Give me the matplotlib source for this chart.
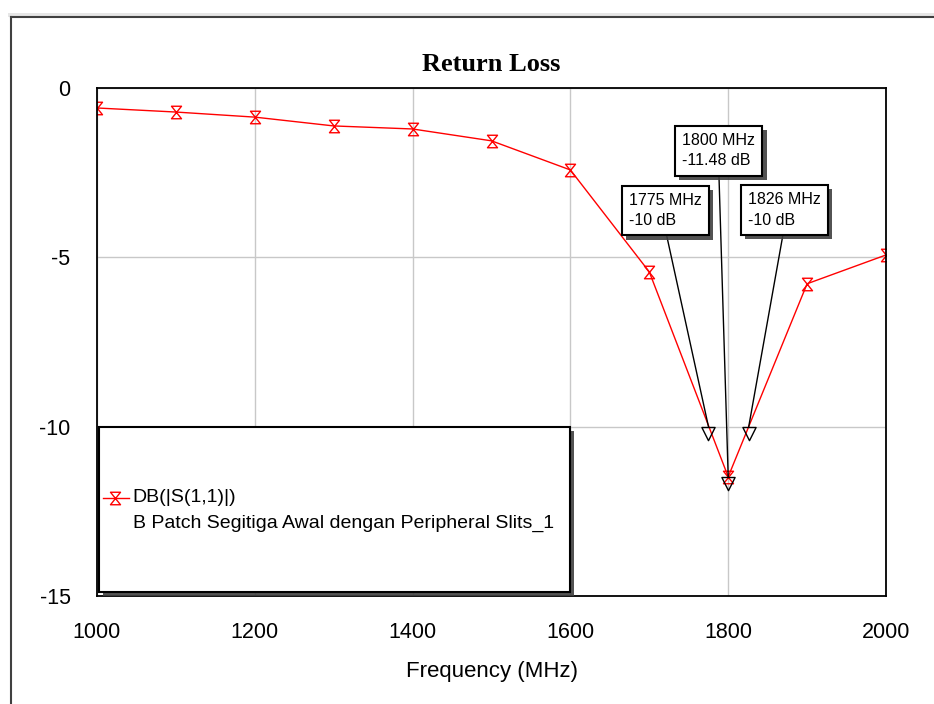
import numpy as np
import matplotlib
matplotlib.use('Agg')
import matplotlib.pyplot as plt
from matplotlib.path import Path
from matplotlib.patches import Rectangle
from matplotlib.lines import Line2D
import matplotlib.patheffects as pe

# data
freq = [1000, 1100, 1200, 1300, 1400, 1500, 1600, 1700, 1800, 1900, 2000]
s11_db = [-0.59, -0.71, -0.86, -1.12, -1.21, -1.56, -2.42, -5.43, -11.48, -5.78, -4.93]

marker_freq = [1775, 1800, 1826]
marker_db = [-10, -11.48, -10]
marker_text = ['1775 MHz\n-10 dB', '1800 MHz\n-11.48 dB', '1826 MHz\n-10 dB']
marker_box_xy = [(1720, -3.62), (1788, -1.85), (1871, -3.60)]

legend_name = 'DB(|S(1,1)|)'
legend_desc = 'B Patch Segitiga Awal dengan Peripheral Slits_1'

plt.rcParams['font.family'] = ['Liberation Sans', 'DejaVu Sans']
plt.rcParams['axes.unicode_minus'] = False

# hourglass marker like the simulator uses
hourglass = Path([(-0.8, 1), (0.8, 1), (-0.8, -1), (0.8, -1), (-0.8, 1)],
                 [Path.MOVETO, Path.LINETO, Path.LINETO, Path.LINETO, Path.CLOSEPOLY])
# down triangle with its top edge on the point
pointer = Path([(-0.5, 0), (0.5, 0), (0, -1), (-0.5, 0)],
               [Path.MOVETO, Path.LINETO, Path.LINETO, Path.CLOSEPOLY])

fig = plt.figure(figsize=(9.34, 7.04), dpi=100)
ax = fig.add_axes([97/934, 1-596/704, 789/934, 508/704])

# window frame
fig.add_artist(Rectangle((8/934, 1-17/704), 926/934, 4/704, transform=fig.transFigure,
                         facecolor='#e6e6e6', edgecolor='none'))
fig.add_artist(Line2D([11/934, 1], [1-17/704, 1-17/704], transform=fig.transFigure,
                      color='#404040', lw=1.5))
fig.add_artist(Line2D([11/934, 11/934], [0, 1-17/704], transform=fig.transFigure,
                      color='#404040', lw=1.5))

ax.plot(freq, s11_db, color='red', lw=1, marker=hourglass, markersize=9,
        markerfacecolor='none', markeredgecolor='red', markeredgewidth=1, zorder=3)

ax.set_xlim(1000, 2000)
ax.set_ylim(-15, 0)
ax.set_xticks(np.arange(1000, 2001, 200))
ax.set_yticks([0, -5, -10, -15])
ax.grid(True, color='#c8c8c8', lw=1)
ax.tick_params(length=0, labelsize=15.5, pad=19)
for s in ax.spines.values():
    s.set_linewidth(1.3)
    s.set_zorder(6)

ax.set_title('Return Loss', family='Liberation Serif', fontweight='bold', fontsize=19, pad=12)
ax.set_xlabel('Frequency (MHz)', fontsize=16, labelpad=13)

# markers + annotation boxes
ax.plot(marker_freq, marker_db, linestyle='none', marker=pointer, markersize=19,
        markerfacecolor='none', markeredgecolor='black', markeredgewidth=1, zorder=4)
for fx, fy, txt, (bx, by) in zip(marker_freq, marker_db, marker_text, marker_box_xy):
    ann = ax.annotate(txt, xy=(fx, fy), xytext=(bx, by), ha='center', va='center',
                      multialignment='left', fontsize=11.5, linespacing=1.45, zorder=7,
                      bbox=dict(boxstyle='square,pad=0.45', facecolor='white',
                                edgecolor='black', lw=1.5),
                      arrowprops=dict(arrowstyle='-', color='black', lw=1,
                                      shrinkA=0, shrinkB=0, relpos=(0.5, 0)))
    ann.get_bbox_patch().set_path_effects([
        pe.SimplePatchShadow(offset=(3, -3), shadow_rgbFace='#404040', alpha=0.9),
        pe.Normal()])

# legend box
leg = Rectangle((0.002, 0.008), 0.597, 0.325, transform=ax.transAxes,
                facecolor='white', edgecolor='black', lw=1.5, zorder=8)
leg.set_path_effects([pe.SimplePatchShadow(offset=(3, -3), shadow_rgbFace='#404040', alpha=0.9),
                      pe.Normal()])
ax.add_patch(leg)
ax.add_line(Line2D([0.008, 0.040], [0.193, 0.193], transform=ax.transAxes, color='red', lw=1,
                   zorder=9))
ax.add_line(Line2D([0.023], [0.193], transform=ax.transAxes, marker=hourglass, markersize=9,
                   markerfacecolor='none', markeredgecolor='red', zorder=9))
ax.text(0.045, 0.193, legend_name, transform=ax.transAxes, fontsize=14, va='center', zorder=9)
ax.text(0.045, 0.142, legend_desc, transform=ax.transAxes, fontsize=14, va='center', zorder=9)

fig.savefig('out.png', dpi=100, facecolor='white')
